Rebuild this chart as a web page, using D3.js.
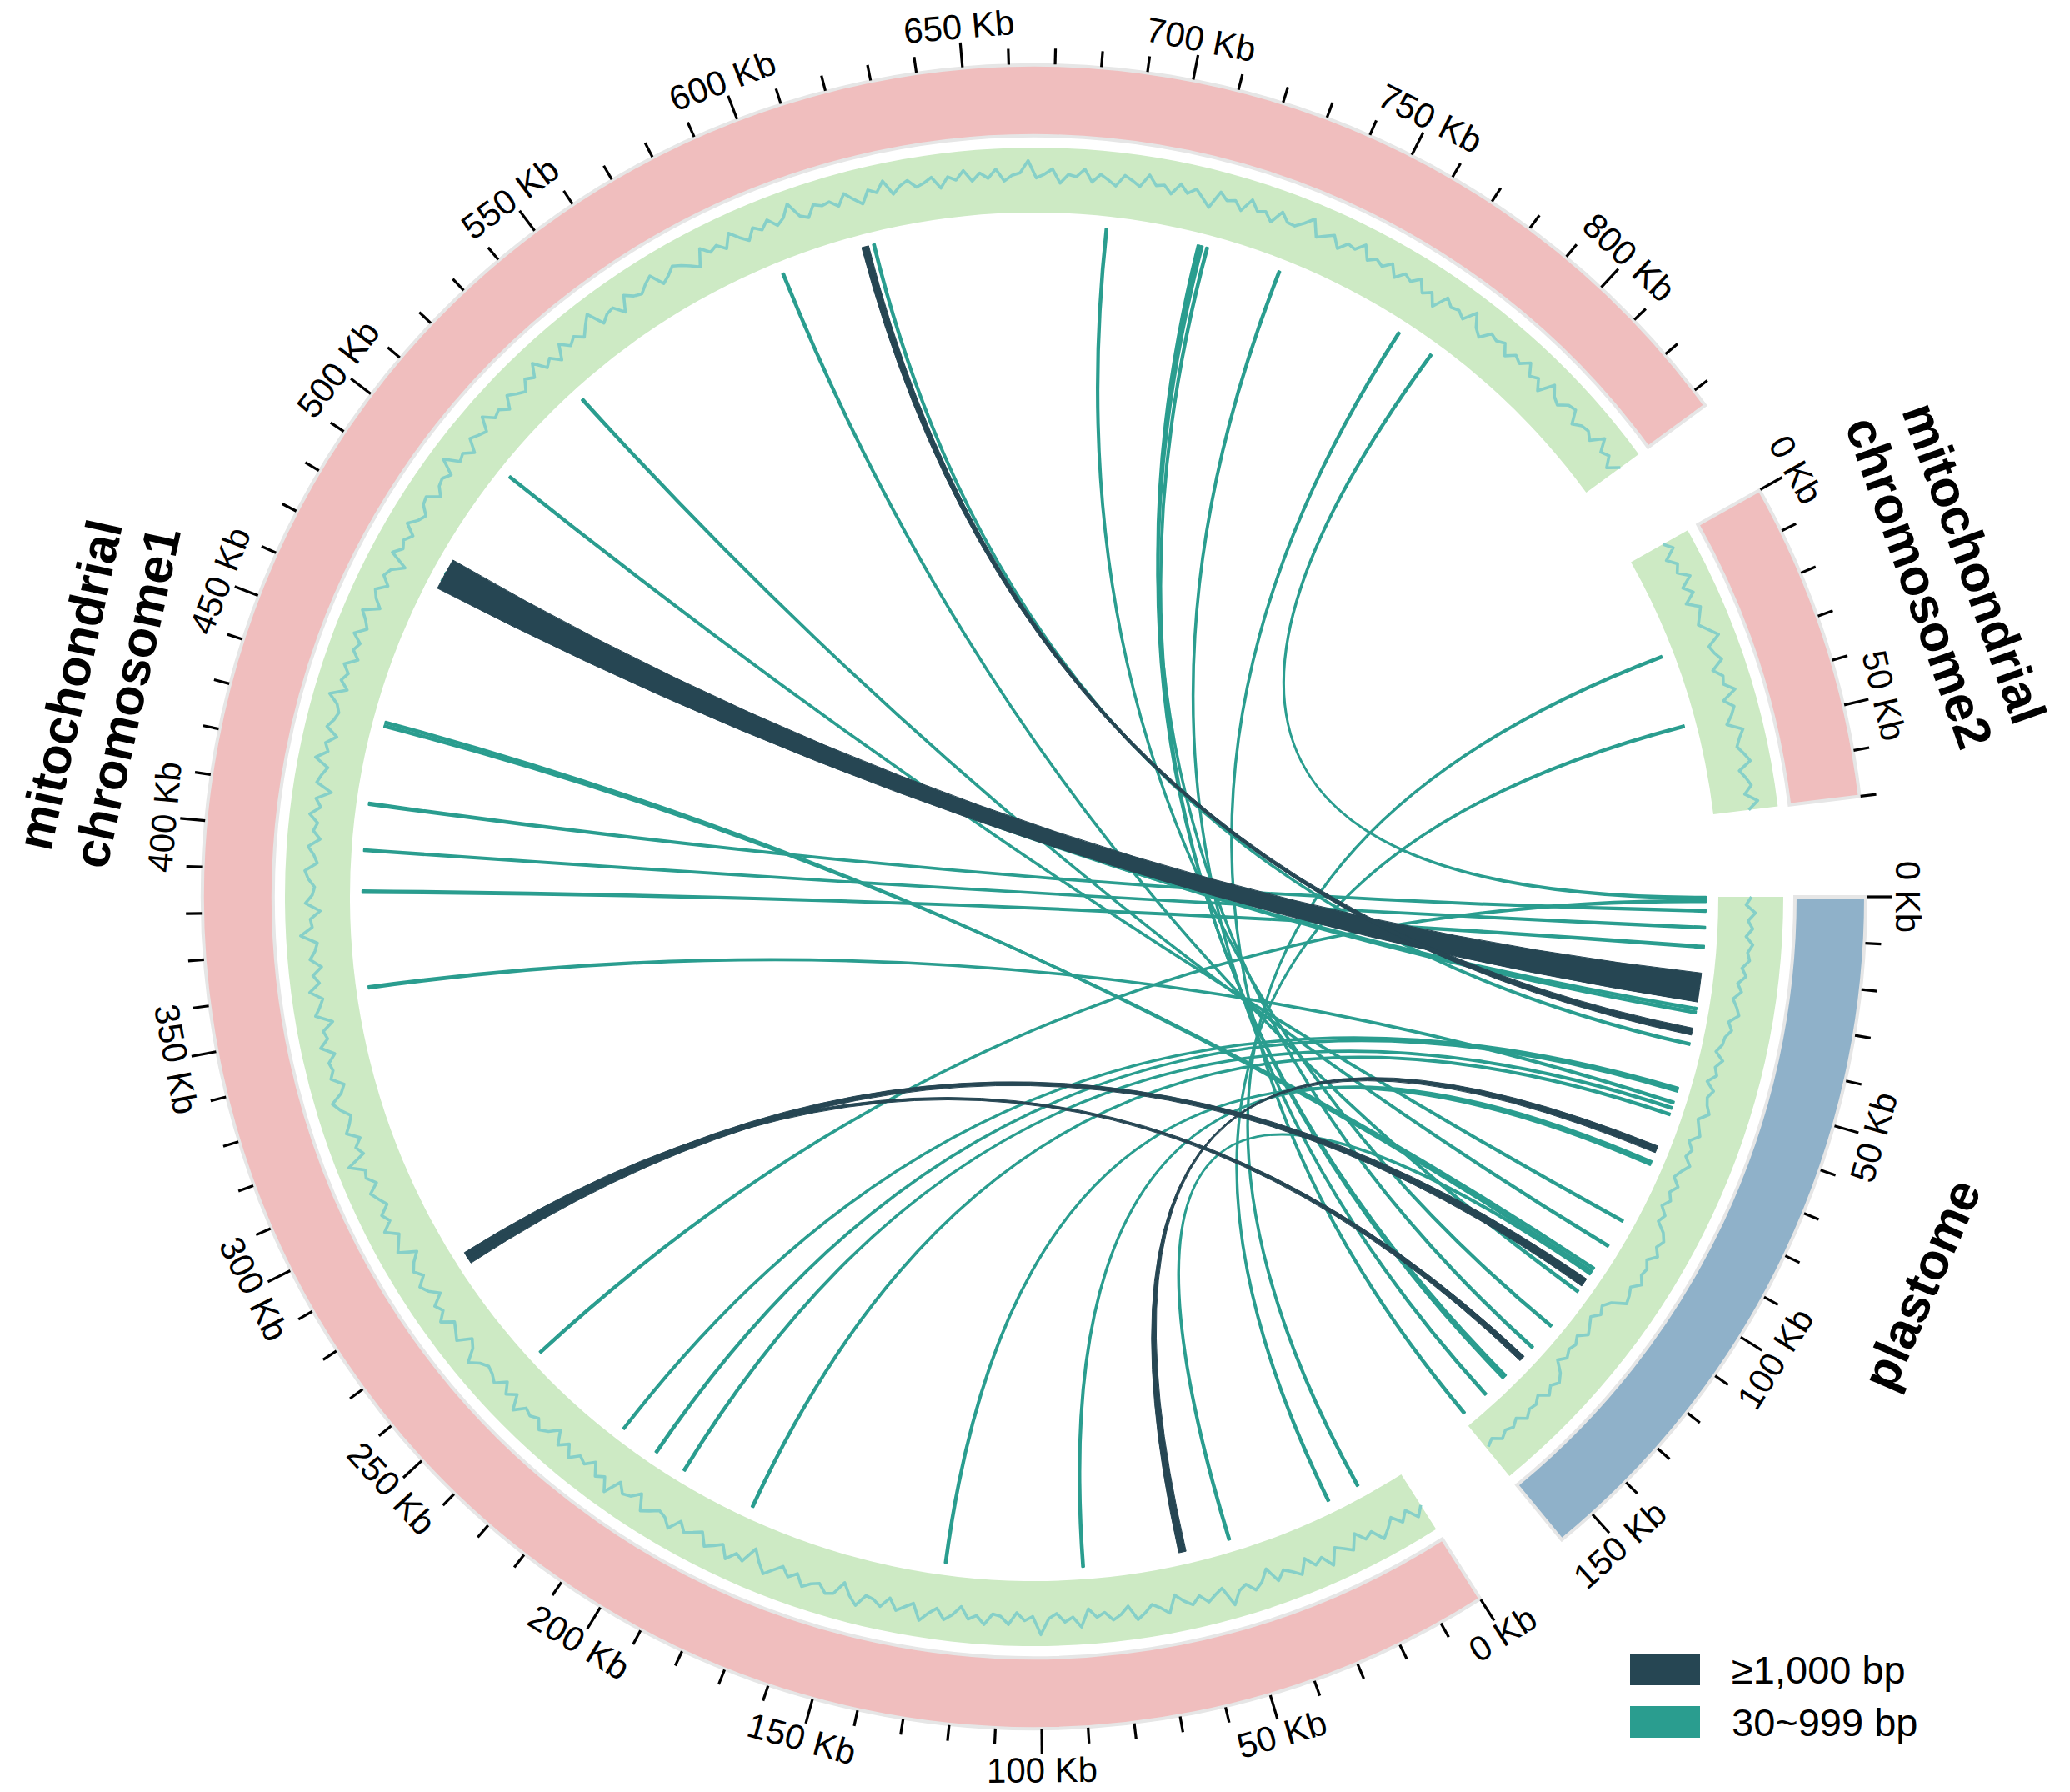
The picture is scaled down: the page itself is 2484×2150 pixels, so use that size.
<!DOCTYPE html>
<html>
<head>
<meta charset="utf-8">
<script src="https://cdn.jsdelivr.net/npm/d3@7"></script>
<style>
  body { margin: 0; background: #fff; }
  svg { display: block; font-family: Arial, "Liberation Sans", Helvetica, sans-serif; }
</style>
</head>
<body>
<svg width="2484" height="2150"></svg>
<script>

// sectors, laid out clockwise starting at 3 o'clock
const sectorIds = ['pt', 'chr1', 'chr2'];
const sectorLabels = [['plastome'], ['mitochondrial', 'chromosome1'], ['mitochondrial', 'chromosome2']];
const sectorLengths = [158.6, 834, 70];   // Kb

// GC-like track values (%)
const gcStepChr1 = 2;   // Kb between values
const gcChr1 = [
  44.2,46.9,43.1,45.8,42.7,45.3,47.4,43.6,44.9,41.8,46.2,44.5,43.0,47.8,44.1,45.6,42.4,46.7,44.8,43.3,
  45.9,41.2,44.6,46.4,43.8,45.1,48.9,42.9,44.3,46.0,43.4,45.7,44.0,41.6,46.8,44.7,43.2,45.4,47.1,42.6,
  44.9,46.3,43.7,45.0,42.2,47.6,44.4,45.8,43.1,44.6,49.5,43.9,45.2,42.8,46.5,44.1,43.5,46.9,44.3,45.6,
  42.0,44.8,46.6,43.4,45.3,47.9,43.0,44.5,46.1,42.7,45.9,44.2,43.6,47.3,44.9,41.4,45.5,46.2,43.8,44.7,
  46.4,43.1,45.0,42.5,44.6,46.8,44.0,40.6,45.7,44.3,47.2,43.5,45.1,46.6,42.9,44.4,45.8,43.2,47.0,44.6,
  43.7,45.4,46.9,42.3,44.8,45.6,43.0,48.3,44.5,46.1,42.6,45.2,44.0,46.7,43.4,45.9,41.9,44.7,46.3,43.8,
  45.1,44.2,47.5,43.3,45.7,42.8,46.0,44.6,43.9,45.3,48.0,44.1,42.4,46.5,45.0,43.6,47.1,44.4,45.8,42.1,
  44.9,46.4,43.5,45.6,44.0,41.5,46.8,45.2,43.7,47.4,44.3,45.9,42.9,44.6,46.2,43.1,45.5,44.8,49.2,43.4,
  45.0,42.7,46.3,44.5,43.2,45.8,47.6,44.1,42.5,46.0,44.7,45.4,43.0,46.9,44.2,45.1,41.7,46.6,44.9,43.6,
  47.3,44.0,45.7,42.8,46.1,44.4,43.5,48.5,44.8,45.3,42.2,46.7,44.6,43.9,45.9,47.0,43.3,44.5,46.4,42.9,
  45.2,44.1,46.8,43.7,45.5,41.1,46.0,44.9,43.4,47.7,44.3,45.6,42.6,46.3,44.7,43.8,45.0,48.1,43.2,45.9,
  44.4,46.5,42.9,45.3,44.0,46.9,43.6,45.1,47.2,42.4,44.8,46.2,43.1,45.7,44.5,40.9,46.6,44.2,45.4,43.5,
  47.0,44.6,43.3,45.8,46.4,42.7,44.9,45.5,43.9,48.7,44.1,45.0,42.3,46.1,44.7,43.6,47.5,44.3,45.2,42.8,
  46.3,44.5,43.0,45.9,44.2,47.8,43.7,45.4,42.5,46.7,44.0,45.6,43.4,46.0,48.4,43.1,44.8,45.3,42.0,46.5,
  44.6,43.8,45.7,47.1,42.9,44.3,46.2,45.0,43.5,41.8,46.9,44.4,45.5,43.2,47.3,44.7,42.6,45.8,44.1,46.4,
  43.6,45.2,48.8,44.0,42.7,46.0,44.9,45.4,43.3,46.6,44.2,42.1,45.9,44.5,47.6,43.0,45.1,46.3,43.8,44.7,
  46.1,42.4,45.6,44.3,47.0,43.5,45.8,44.0,46.7,42.9,44.6,45.3,49.0,43.7,44.8,46.5,42.2,45.0,44.4,46.9,
  43.1,45.7,44.2,42.6,46.2,44.9,43.4,47.4,44.5,45.1,42.8,46.4,44.0,45.9,43.6,41.3,46.8,44.7,45.5,43.0,
  47.2,44.3,45.0,42.5,46.6,44.1,43.9,45.8,48.2,43.2,44.6,46.0,42.7,45.4,44.8,47.5,43.5,45.2,44.0,46.3,
  42.9,45.6,44.4,46.7,43.3,45.1,41.6,46.4,44.6,45.3,43.8,47.9,44.2,42.4,45.7,44.9,46.1,43.1,45.5,44.3,
  46.8,43.6,45.0,42.1,47.0,44.5,43.4,45.9,46.5,42.8,44.7,45.2,43.7,47.6,44.1,45.4,42.6,46.0
];
const gcStepChr2 = 2;
const gcChr2 = [
  44.3,46.5,42.8,45.4,44.0,47.2,43.5,45.9,42.4,46.1,44.7,43.3,45.6,48.0,43.9,44.8,46.3,42.6,
  45.1,44.4,47.4,43.0,45.7,44.2,42.1,46.6,44.9,43.6,45.3,46.8,42.9,44.5,45.8,43.4,47.1,44.0
];
const gcStepPt = 2;
const gcPt = [
  43.2,41.6,44.5,42.3,43.8,41.9,44.1,42.7,43.5,41.4,42.9,
  40.6,42.1,39.8,41.3,42.4,39.6,41.0,39.4,
  39.1,37.6,40.3,38.5,39.6,37.2,39.9,38.6,39.3,40.7,37.9,39.0,40.2,37.5,39.4,38.3,40.6,38.8,37.4,39.8,38.1,39.5,37.7,40.0,38.9,
  41.9,43.4,42.2,44.0,41.6,43.1,42.6,44.3,41.8,42.9,43.6,
  39.6,37.8,39.1,37.0,38.4,39.8,37.3,38.7,38.0,39.3,37.5,
  40.8,42.6,41.2,43.0,40.5,42.1,41.7,43.3,40.9,42.4,41.4,42.8,40.6,41.9
];

// homologous fragments: side A (mitochondrial chromosome1) -> side B (plastome or chromosome2), Kb
const linkStartA = [469.2, 618.9, 280.1, 281.8, 60.7,
                    778.7, 249.6, 408.2, 395.8, 384.6, 471.5, 473.5, 622.0, 219.4, 208.6, 359.0, 199.7, 179.0,
                    88.3, 125.1, 504.5, 532.9, 429.4, 430.4, 48.5, 596.5, 684.6, 709.6, 710.5, 712.0, 732.3, 768.3,
                    20.0, 11.2];
const linkEndA   = [477.8, 620.8, 282.6, 283.4, 62.7,
                    779.2, 250.1, 408.8, 396.3, 385.3, 472.0, 474.0, 622.5, 219.8, 209.1, 359.6, 200.2, 179.5,
                    88.8, 125.6, 505.0, 533.4, 429.9, 430.9, 49.0, 597.0, 685.1, 710.1, 711.0, 712.5, 732.8, 768.8,
                    20.5, 11.7];
const linkChrB   = ['pt','pt','pt','pt','pt',
                    'pt','pt','pt','pt','pt','pt','pt','pt','pt','pt','pt','pt','pt',
                    'pt','pt','pt','pt','pt','pt','pt','pt','pt','pt','pt','pt','pt','pt',
                    'chr2','chr2'];
const linkStartB = [20.4, 35.3, 108.6, 135.2, 68.2,
                    0.0, 0.9, 3.5, 8.0, 13.1, 29.8, 30.8, 39.4, 51.7, 52.3, 55.6, 57.1, 58.9,
                    72.6, 73.2, 90.1, 97.8, 105.0, 106.0, 106.6, 112.4, 124.1, 131.7, 142.2, 142.9, 149.4, 157.0,
                    45.4, 25.9];
const linkEndB   = [28.2, 37.2, 110.9, 136.8, 70.1,
                    0.5, 1.4, 4.0, 8.5, 13.7, 30.3, 31.3, 39.9, 52.2, 52.8, 56.1, 57.6, 59.4,
                    73.1, 73.7, 90.6, 98.3, 105.5, 106.5, 107.1, 112.9, 124.6, 132.2, 142.7, 143.4, 149.9, 157.5,
                    45.9, 26.4];
// true = fragment >= 1,000 bp
const linkLong   = [true, true, true, true, true,
                    false,false,false,false,false,false,false,false,false,false,false,false,false,
                    false,false,false,false,false,false,false,false,false,false,false,false,false,false,
                    false,false];

const legendLabels = ['\u22651,000 bp', '30~999 bp'];

// ---- layout & style ----
const svg = d3.select('svg');
const cx = 1241, cy = 1076;
const gapRad = 0.121;
const rOuter = 998, rOuterIn = 913;      // ideogram ring
const rTrackOut = 899, rTrackIn = 821;   // GC ring
const rLink = 806;
const labelNudge = { pt: -0.03, chr1: 0.03, chr2: -0.025 };
const labelRadius = { pt: 1162, chr1: 1150, chr2: 1162 };
const colors = {
  chr: '#f0bebe', pt: '#8fb1c9', ringStroke: '#e6e6e6',
  track: '#cdeac4', gcLine: '#86d0c8',
  long: '#264653', short: '#2a9d8f'
};

// angular scales: one linear scale per sector, shared Kb/radian ratio
const radPerKb = (2 * Math.PI - gapRad * sectorIds.length) / d3.sum(sectorLengths);
const angle = {};
let a0 = Math.PI / 2;
sectorIds.forEach((id, i) => {
  const a1 = a0 + sectorLengths[i] * radPerKb;
  angle[id] = d3.scaleLinear().domain([0, sectorLengths[i]]).range([a0, a1]);
  a0 = a1 + gapRad;
});

const polar = (a, r) => [r * Math.sin(a), -r * Math.cos(a)];
const TAU = 2 * Math.PI;
const flipped = a => { const n = ((a % TAU) + TAU) % TAU; return n > Math.PI / 2 && n < 3 * Math.PI / 2; };
const readableDeg = a => (flipped(a) ? a - Math.PI : a) * 180 / Math.PI;

const g = svg.append('g').attr('transform', `translate(${cx},${cy})`);

// outer ideogram
const ringArc = d3.arc().innerRadius(rOuterIn).outerRadius(rOuter);
g.selectAll('path.ideo')
  .data(sectorIds)
  .join('path')
  .attr('class', 'ideo')
  .attr('d', id => ringArc({ startAngle: angle[id].range()[0], endAngle: angle[id].range()[1] }))
  .attr('fill', id => id === 'pt' ? colors.pt : colors.chr)
  .attr('stroke', colors.ringStroke)
  .attr('stroke-width', 4);

// ticks every 10 Kb, labels every 50 Kb
sectorIds.forEach(id => {
  const sc = angle[id];
  const ticks = d3.range(0, sc.domain()[1] + 0.001, 10);
  const tg = g.append('g');
  tg.selectAll('line')
    .data(ticks)
    .join('line')
    .attr('x1', v => polar(sc(v), rOuter + 1)[0])
    .attr('y1', v => polar(sc(v), rOuter + 1)[1])
    .attr('x2', v => polar(sc(v), rOuter + (v % 50 === 0 ? 31 : 20))[0])
    .attr('y2', v => polar(sc(v), rOuter + (v % 50 === 0 ? 31 : 20))[1])
    .attr('stroke', '#000')
    .attr('stroke-width', 3.2);
  tg.selectAll('text')
    .data(ticks.filter(v => v % 50 === 0))
    .join('text')
    .attr('transform', v => {
      const [x, y] = polar(sc(v), 1048);
      return `translate(${x},${y}) rotate(${readableDeg(sc(v))})`;
    })
    .attr('text-anchor', 'middle')
    .attr('dominant-baseline', 'central')
    .attr('font-size', 42)
    .attr('fill', '#000')
    .text(v => `${v} Kb`);
});

// GC ring background
const trackArc = d3.arc().innerRadius(rTrackIn).outerRadius(rTrackOut);
g.selectAll('path.track')
  .data(sectorIds)
  .join('path')
  .attr('class', 'track')
  .attr('d', id => trackArc({ startAngle: angle[id].range()[0], endAngle: angle[id].range()[1] }))
  .attr('fill', colors.track);

// GC line
const gcR = d3.scaleLinear().domain([33, 53]).range([rTrackIn, rTrackOut]);
const gcSeries = [
  { id: 'chr1', values: gcChr1, step: gcStepChr1 },
  { id: 'chr2', values: gcChr2, step: gcStepChr2 },
  { id: 'pt', values: gcPt, step: gcStepPt }
];
gcSeries.forEach(s => {
  const sc = angle[s.id];
  const line = d3.lineRadial()
    .angle((d, i) => sc(Math.min(i * s.step, sc.domain()[1])))
    .radius(d => gcR(d));
  g.append('path')
    .attr('d', line(s.values))
    .attr('fill', 'none')
    .attr('stroke', colors.gcLine)
    .attr('stroke-width', 3.6)
    .attr('stroke-linejoin', 'round');
});

// links
const ribbon = d3.ribbon().radius(rLink);
const links = linkStartA.map((s, i) => ({
  source: { startAngle: angle.chr1(s), endAngle: angle.chr1(linkEndA[i]) },
  target: { startAngle: angle[linkChrB[i]](linkStartB[i]), endAngle: angle[linkChrB[i]](linkEndB[i]) },
  long: linkLong[i]
}));
g.append('g')
  .selectAll('path')
  .data(links.filter(d => !d.long).concat(links.filter(d => d.long)))
  .join('path')
  .attr('d', ribbon)
  .attr('fill', d => d.long ? colors.long : colors.short)
  .attr('stroke', d => d.long ? colors.long : colors.short)
  .attr('stroke-width', d => d.long ? 1 : 2.4)
  .attr('stroke-linejoin', 'round');

// sector names
sectorIds.forEach((id, i) => {
  const sc = angle[id];
  const mid = (sc.range()[0] + sc.range()[1]) / 2 + labelNudge[id];
  const [x, y] = polar(mid, labelRadius[id]);
  const lines = sectorLabels[i];
  const lg = g.append('g').attr('transform', `translate(${x},${y}) rotate(${readableDeg(mid)})`);
  lg.selectAll('text')
    .data(lines)
    .join('text')
    .attr('y', (d, j) => (j - (lines.length - 1) / 2) * 70)
    .attr('text-anchor', 'middle')
    .attr('dominant-baseline', 'central')
    .attr('font-size', 61)
    .attr('font-weight', 700)
    .text(d => d);
});

// legend
const legend = svg.append('g').attr('transform', 'translate(1956,1984)');
legendLabels.forEach((lab, i) => {
  legend.append('rect')
    .attr('x', 0).attr('y', i * 63)
    .attr('width', 84).attr('height', 38)
    .attr('fill', i === 0 ? colors.long : colors.short);
  legend.append('text')
    .attr('x', 122).attr('y', i * 63 + 19)
    .attr('dominant-baseline', 'central')
    .attr('font-size', 47)
    .text(lab);
});

</script>
</body>
</html>
